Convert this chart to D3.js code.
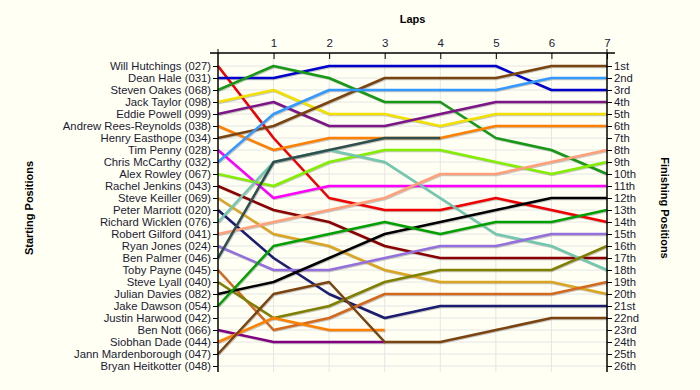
<!DOCTYPE html>
<html>
<head>
<meta charset="utf-8">
<script src="https://cdn.jsdelivr.net/npm/d3@7"></script>
<style>
  body { margin: 0; background: #fffff4; }
  svg { display: block; font-family: "Liberation Sans", Arial, sans-serif; }
</style>
</head>
<body>
<script>
// drivers in starting order (grid position = index + 1)
const drivers = [
  'Will Hutchings (027)', 'Dean Hale (031)', 'Steven Oakes (068)', 'Jack Taylor (098)',
  'Eddie Powell (099)', 'Andrew Rees-Reynolds (038)', 'Henry Easthope (034)', 'Tim Penny (028)',
  'Chris McCarthy (032)', 'Alex Rowley (067)', 'Rachel Jenkins (043)', 'Steve Keiller (069)',
  'Peter Marriott (020)', 'Richard Wicklen (076)', 'Robert Gilford (041)', 'Ryan Jones (024)',
  'Ben Palmer (046)', 'Toby Payne (045)', 'Steve Lyall (040)', 'Julian Davies (082)',
  'Jake Dawson (054)', 'Justin Harwood (042)', 'Ben Nott (066)', 'Siobhan Dade (044)',
  'Jann Mardenborough (047)', 'Bryan Heitkotter (048)'
];

// position at lap 0..7, one array per driver (empty = no laps)
const positions = [
  [1, 7, 12, 13, 13, 12, 13, 14],
  [2, 2, 1, 1, 1, 1, 3, 3],
  [3, 1, 2, 4, 4, 7, 8, 10],
  [4, 3, 5, 5, 6, 5, 5, 5],
  [5, 4, 6, 6, 5, 4, 4, 4],
  [6, 8, 7, 7, 7, 6, 6, 6],
  [7, 6, 4, 2, 2, 2, 1, 1],
  [8, 12, 11, 11, 11, 11, 11, 11],
  [9, 5, 3, 3, 3, 3, 2, 2],
  [10, 11, 9, 8, 8, 9, 10, 9],
  [11, 13, 14, 16, 17, 17, 17, 17],
  [12, 15, 16, 18, 19, 19, 19, 20],
  [13, 17, 20, 22, 21, 21, 21, 21],
  [14, 9, 8, 9, 12, 15, 16, 18],
  [15, 14, 13, 12, 10, 10, 9, 8],
  [16, 18, 18, 17, 16, 16, 15, 15],
  [17, 9, 8, 7, 7],
  [18, 23, 22, 20, 20, 20, 20, 19],
  [19, 22, 21, 19, 18, 18, 18, 16],
  [20, 19, 17, 15, 14, 13, 12, 12],
  [21, 16, 15, 14, 15, 14, 14, 13],
  [],
  [23, 24, 24, 24],
  [24, 22, 23, 23],
  [25, 20, 19, 24, 24, 23, 22, 22],
  []
];

const lapTicks = [1, 2, 3, 4, 5, 6, 7];
const finishLabels = ['1st', '2nd', '3rd', '4th', '5th', '6th', '7th', '8th', '9th', '10th',
  '11th', '12th', '13th', '14th', '15th', '16th', '17th', '18th', '19th', '20th',
  '21st', '22nd', '23rd', '24th', '25th', '26th'];

const palette = [
  '#f00000', '#0000cc', '#179817', '#f2e000', '#7c1586', '#ff8000', '#7a4410', '#ff00ff',
  '#3399ff', '#84ee00', '#8b0000', '#daa520', '#1c1c70', '#70c8ae', '#ffa07a', '#9370db',
  '#2f4f4f', '#d2691e', '#808000', '#000000', '#00a000', '#888888', '#800080', '#ff8000',
  '#7a4410', '#888888'
];

const W = 700, H = 390;
const svg = d3.select('body').append('svg').attr('width', W).attr('height', H);

const x = d3.scaleLinear().domain([0, 7]).range([218, 607]);
const y = d3.scaleLinear().domain([0, 27]).range([54, 378]);
const rows = d3.range(1, drivers.length + 1);
const axisTop = 53, axisBottom = 372;

// grid
svg.append('g').selectAll('line').data(rows).join('line')
  .attr('x1', x(0)).attr('x2', x(7))
  .attr('y1', d => y(d)).attr('y2', d => y(d))
  .attr('stroke', '#e6e6e6').attr('stroke-width', 1);
svg.append('g').selectAll('line').data(lapTicks.slice(0, -1)).join('line')
  .attr('x1', d => x(d)).attr('x2', d => x(d))
  .attr('y1', axisTop).attr('y2', axisBottom)
  .attr('stroke', '#e6e6e6').attr('stroke-width', 1);

// lines, with a faint drop shadow
const line = d3.line().x((d, i) => x(i)).y(d => y(d));
const series = positions.map((p, i) => ({ p, i })).filter(s => s.p.length > 1);

svg.append('g').attr('transform', 'translate(0.8,1)').selectAll('path').data(series).join('path')
  .attr('d', s => line(s.p))
  .attr('fill', 'none').attr('stroke', '#888').attr('stroke-opacity', 0.45)
  .attr('stroke-width', 2.5);
svg.append('g').selectAll('path').data(series).join('path')
  .attr('d', s => line(s.p))
  .attr('fill', 'none').attr('stroke', s => palette[s.i])
  .attr('stroke-width', 2.5).attr('stroke-linejoin', 'round');

// axes
const fmtColor = '#1a1a33';
const leftAxis = svg.append('g').attr('transform', `translate(${x(0)},0)`)
  .call(d3.axisLeft(y).tickValues(rows).tickFormat(d => drivers[d - 1]).tickSize(5).tickSizeOuter(0));
const rightAxis = svg.append('g').attr('transform', `translate(${x(7)},0)`)
  .call(d3.axisRight(y).tickValues(rows).tickFormat(d => finishLabels[d - 1]).tickSize(5).tickSizeOuter(0));
const lapAxis = svg.append('g').attr('transform', `translate(0,${axisTop})`)
  .call(d3.axisTop(x).tickValues(lapTicks).tickFormat(d3.format('d')).tickSize(-6).tickSizeOuter(0));

[leftAxis, rightAxis, lapAxis].forEach(g => {
  g.select('.domain').remove();
  g.selectAll('text').attr('fill', fmtColor).style('font-size', '11.3px')
    .style('font-family', '"Liberation Sans", Arial, sans-serif');
  g.selectAll('line').attr('stroke', '#000');
});
leftAxis.selectAll('text').attr('x', -7);
rightAxis.selectAll('text').attr('x', 7);
lapAxis.selectAll('text').attr('y', -6).style('font-size', '11.5px');

svg.append('line').attr('x1', x(0)).attr('x2', x(0)).attr('y1', axisTop).attr('y2', axisBottom)
  .attr('stroke', '#000').attr('stroke-width', 1.5);
svg.append('line').attr('x1', x(7)).attr('x2', x(7)).attr('y1', axisTop).attr('y2', axisBottom)
  .attr('stroke', '#000').attr('stroke-width', 1.5);
svg.append('line').attr('x1', 210).attr('x2', 615).attr('y1', axisTop).attr('y2', axisTop)
  .attr('stroke', '#000').attr('stroke-width', 1.5);
svg.append('line').attr('x1', x(0)).attr('x2', x(0)).attr('y1', axisTop - 4).attr('y2', axisTop)
  .attr('stroke', '#000');
svg.append('line').attr('x1', x(7)).attr('x2', x(7)).attr('y1', axisTop - 4).attr('y2', axisTop)
  .attr('stroke', '#000');

// titles
svg.append('text').attr('x', (x(0) + x(7)) / 2).attr('y', 23).attr('text-anchor', 'middle')
  .style('font-size', '11px').style('font-weight', 'bold').text('Laps');
svg.append('text').attr('transform', 'translate(33,208) rotate(-90)').attr('text-anchor', 'middle')
  .style('font-size', '11px').style('font-weight', 'bold').text('Starting Positions');
svg.append('text').attr('transform', 'translate(661,208) rotate(90)').attr('text-anchor', 'middle')
  .style('font-size', '11px').style('font-weight', 'bold').text('Finishing Positions');
</script>
</body>
</html>
